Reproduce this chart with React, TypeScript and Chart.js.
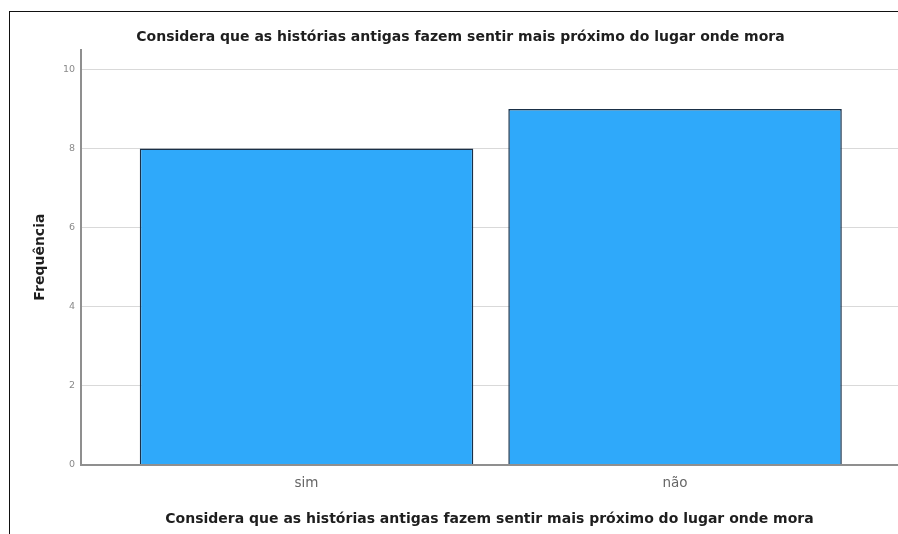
import React, { useEffect, useRef } from 'react';
import { Chart, registerables } from 'chart.js';

Chart.register(...registerables);

const categories: string[] = ['sim', 'não'];
const frequencies: number[] = [8, 9];
const yTickValues: number[] = [0, 2, 4, 6, 8, 10];
const chartTitle = 'Considera que as histórias antigas fazem sentir mais próximo do lugar onde mora';
const xAxisTitle = 'Considera que as histórias antigas fazem sentir mais próximo do lugar onde mora';
const yAxisTitle = 'Frequência';

const FONT = "'DejaVu Sans', 'Liberation Sans', sans-serif";

export default function App() {
  const ref = useRef<HTMLCanvasElement>(null);

  useEffect(() => {
    if (!ref.current) return;
    const chart = new Chart(ref.current, {
      type: 'bar',
      data: {
        datasets: [
          {
            data: categories.map((_, i) => ({ x: i, y: frequencies[i] })),
            backgroundColor: '#2fa9fa',
            borderColor: '#1a3048',
            borderWidth: 1.5,
            barPercentage: 0.905,
            categoryPercentage: 1,
          },
        ],
      },
      options: {
        responsive: false,
        animation: false,
        layout: { padding: { left: 23, right: 0, top: 0, bottom: 0 } },
        plugins: {
          legend: { display: false },
          tooltip: { enabled: false },
          title: {
            display: true,
            text: chartTitle,
            color: '#1e1e1e',
            font: { family: FONT, size: 14, weight: 'bold', lineHeight: 1.2 },
            padding: { top: 29, bottom: 3.95 },
          },
        },
        scales: {
          x: {
            type: 'linear',
            offset: false,
            bounds: 'data',
            min: -0.612,
            max: 1.605,
            afterBuildTicks: (s: any) => {
              s.ticks = categories.map((_, i) => ({ value: i }));
            },
            afterFit: (s: any) => {
              s.height = 69.5;
            },
            grid: { display: false, drawTicks: false, offset: false },
            border: { display: true, color: '#8f8f8f', width: 2 },
            ticks: {
              callback: (v: any) => categories[v as number] ?? '',
              color: '#666666',
              font: { family: FONT, size: 13.5 },
              padding: 11,
              autoSkip: false,
              maxRotation: 0,
            },
            title: {
              display: true,
              text: xAxisTitle,
              color: '#1e1e1e',
              font: { family: FONT, size: 14, weight: 'bold', lineHeight: 1.2 },
              padding: { top: 0, bottom: 6.6 },
            },
          },
          y: {
            min: 0,
            max: 10.5,
            afterBuildTicks: (s: any) => {
              s.ticks = yTickValues.map((v) => ({ value: v }));
            },
            afterFit: (s: any) => {
              s.width = 58;
            },
            grid: {
              drawTicks: false,
              color: (ctx: any) => (ctx.tick && ctx.tick.value === 0 ? 'rgba(0,0,0,0)' : '#d9d9d9'),
              lineWidth: 1,
            },
            border: { display: true, color: '#8f8f8f', width: 2 },
            ticks: {
              color: '#8a8a8a',
              font: { family: FONT, size: 9.5 },
              padding: 6,
            },
            title: {
              display: true,
              text: yAxisTitle,
              color: '#1e1e1e',
              font: { family: FONT, size: 14, weight: 'bold', lineHeight: 1.2 },
              padding: { top: 8.5, bottom: 0 },
            },
          },
        },
      },
    } as any);
    return () => chart.destroy();
  }, []);

  return (
    <div
      style={{
        position: 'fixed',
        left: 0,
        top: 0,
        width: 898,
        height: 534,
        background: '#fff',
        overflow: 'hidden',
      }}
    >
      <canvas ref={ref} width={898} height={534} style={{ display: 'block' }} />
      <div
        style={{
          position: 'absolute',
          left: 9,
          top: 11,
          width: 900,
          height: 540,
          borderTop: '1px solid #111',
          borderLeft: '1px solid #111',
          boxSizing: 'border-box',
          pointerEvents: 'none',
        }}
      />
    </div>
  );
}
